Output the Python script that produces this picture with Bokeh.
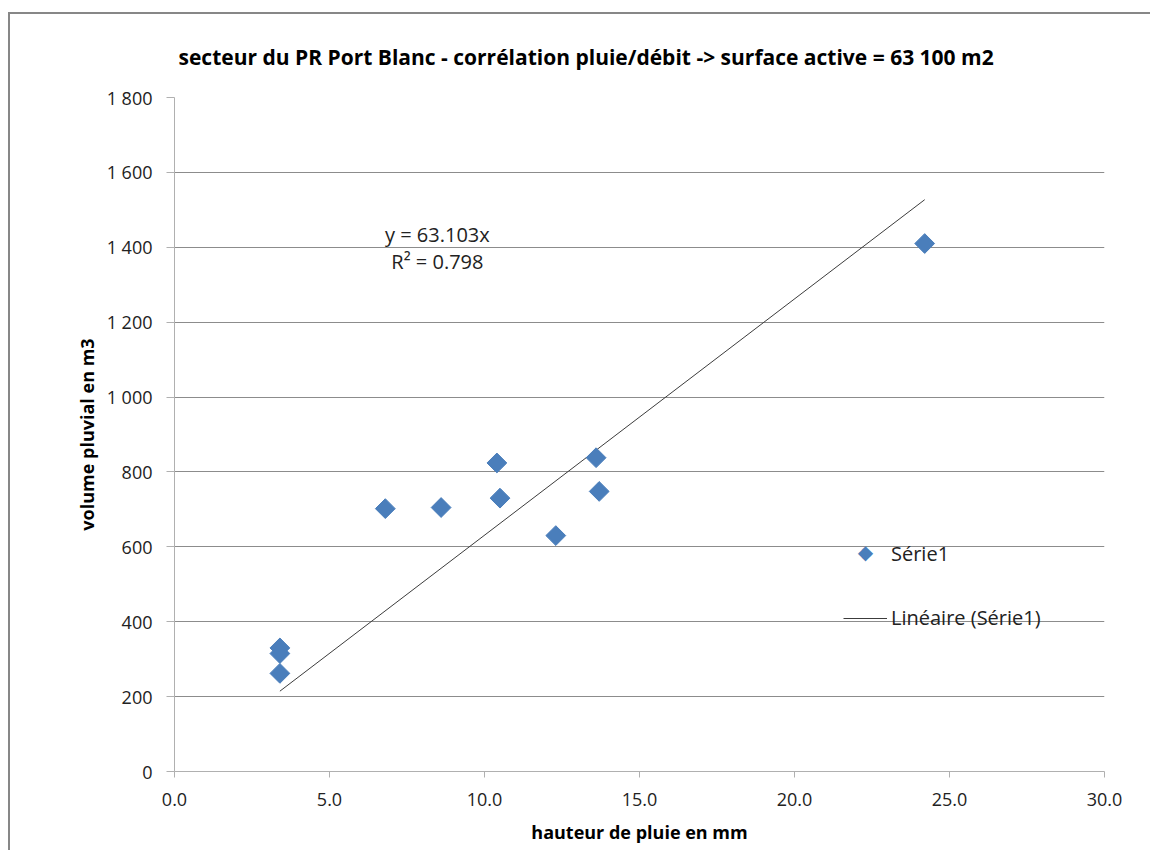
from bokeh.plotting import figure
from bokeh.models import (Range1d, FixedTicker, CustomJSTickFormatter, PrintfTickFormatter,
                          Label, Legend, LegendItem, ColumnDataSource)
from bokeh.embed import file_html
from bokeh.resources import INLINE

# data
pluie_mm = [3.4, 3.4, 3.4, 6.8, 8.6, 10.4, 10.5, 12.3, 13.6, 13.7, 24.2]
volume_m3 = [330, 315, 262, 702, 705, 824, 730, 630, 838, 748, 1410]
slope = 63.103
r2 = 0.798
x_ticks = [0, 5, 10, 15, 20, 25, 30]
y_ticks = [0, 200, 400, 600, 800, 1000, 1200, 1400, 1600, 1800]

FONT = "Open Sans"
BLUE = "#4a7ebb"

p = figure(width=1142, height=838, x_range=Range1d(0, 30), y_range=Range1d(0, 1800),
           output_backend="svg", toolbar_location=None,
           min_border_left=164, min_border_right=48, min_border_top=82, min_border_bottom=81)
p.styles = {"border-left": "2px solid #878787", "border-top": "2px solid #878787",
            "margin-top": "12px", "margin-left": "8px"}
p.outline_line_color = None
p.background_fill_color = "white"
p.border_fill_color = "white"

# title
p.title.text = "secteur du PR Port Blanc - corrélation pluie/débit -> surface active = 63 100 m2"
p.title.align = "left"
p.title.text_font = FONT
p.title.text_font_style = "bold"
p.title.text_font_size = "21px"
p.title.text_color = "black"
p.title.offset = 4
p.title.standoff = 53

# axes
xa = p.xaxis[0]
xa.ticker = FixedTicker(ticks=x_ticks)
xa.formatter = PrintfTickFormatter(format="%.1f")
xa.axis_label = "hauteur de pluie en mm"
ya = p.yaxis[0]
ya.ticker = FixedTicker(ticks=y_ticks)
ya.formatter = CustomJSTickFormatter(code="""
    if (tick >= 1000) {
        const th = Math.floor(tick / 1000);
        const r = String(Math.round(tick % 1000)).padStart(3, '0');
        return th + ' ' + r;
    }
    return String(tick);
""")
ya.axis_label = "volume pluvial en m3"
for ax in (xa, ya):
    ax.axis_line_color = "#b0b0b0"
    ax.major_tick_line_color = "#b0b0b0"
    ax.minor_tick_line_color = None
    ax.major_tick_in = 0
    ax.major_label_text_font = FONT
    ax.major_label_text_font_size = "18px"
    ax.major_label_text_color = "#222222"
    ax.axis_label_text_font = FONT
    ax.axis_label_text_font_style = "bold"
    ax.axis_label_text_font_size = "18px"
    ax.axis_label_text_color = "black"
xa.major_tick_out = 6
xa.major_label_standoff = 15
xa.axis_label_standoff = 11
ya.major_tick_out = 8
ya.major_label_standoff = 14
ya.axis_label_standoff = 5

p.xgrid.grid_line_color = None
p.ygrid.grid_line_color = "#8c8c8c"
p.ygrid.grid_line_width = 1

# trendline
x0, x1 = min(pluie_mm), max(pluie_mm)
trend = p.line([x0, x1], [slope * x0, slope * x1], line_color="#3c3c3c", line_width=1)

# points
src = ColumnDataSource(dict(x=pluie_mm, y=volume_m3))
pts = p.scatter("x", "y", source=src, marker="square", size=14, angle=0.785398,
                fill_color=BLUE, line_color=BLUE)

# legend (diamond symbol drawn as text since legend glyphs ignore marker angle)
leg_pts = p.scatter([], [], marker="square", size=9, fill_color=BLUE, line_color=BLUE)
legend = Legend(items=[LegendItem(label="Série1", renderers=[leg_pts]),
                       LegendItem(label="Linéaire (Série1)", renderers=[trend])],
                location=(669, 140), orientation="vertical",
                padding=0, margin=0, spacing=37, glyph_width=44, glyph_height=22,
                label_standoff=4, label_height=20,
                label_text_font=FONT, label_text_font_size="20px", label_text_color="#222222",
                border_line_alpha=0, background_fill_alpha=0)
p.add_layout(legend, "center")
p.add_layout(Label(x=22.29, y=585, text="◆", text_align="center", text_baseline="middle",
                   text_font="DejaVu Sans", text_font_size="20px", text_color=BLUE))

# equation labels
p.add_layout(Label(x=8.48, y=1434, text=f"y = {slope:.3f}x", text_align="center",
                   text_baseline="middle", text_font=FONT, text_font_size="20px",
                   text_color="#222222"))
p.add_layout(Label(x=8.48, y=1362, text=f"R² = {r2:.3f}", text_align="center",
                   text_baseline="middle", text_font=FONT, text_font_size="20px",
                   text_color="#222222"))

open("out.html", "w").write(file_html(p, INLINE))
